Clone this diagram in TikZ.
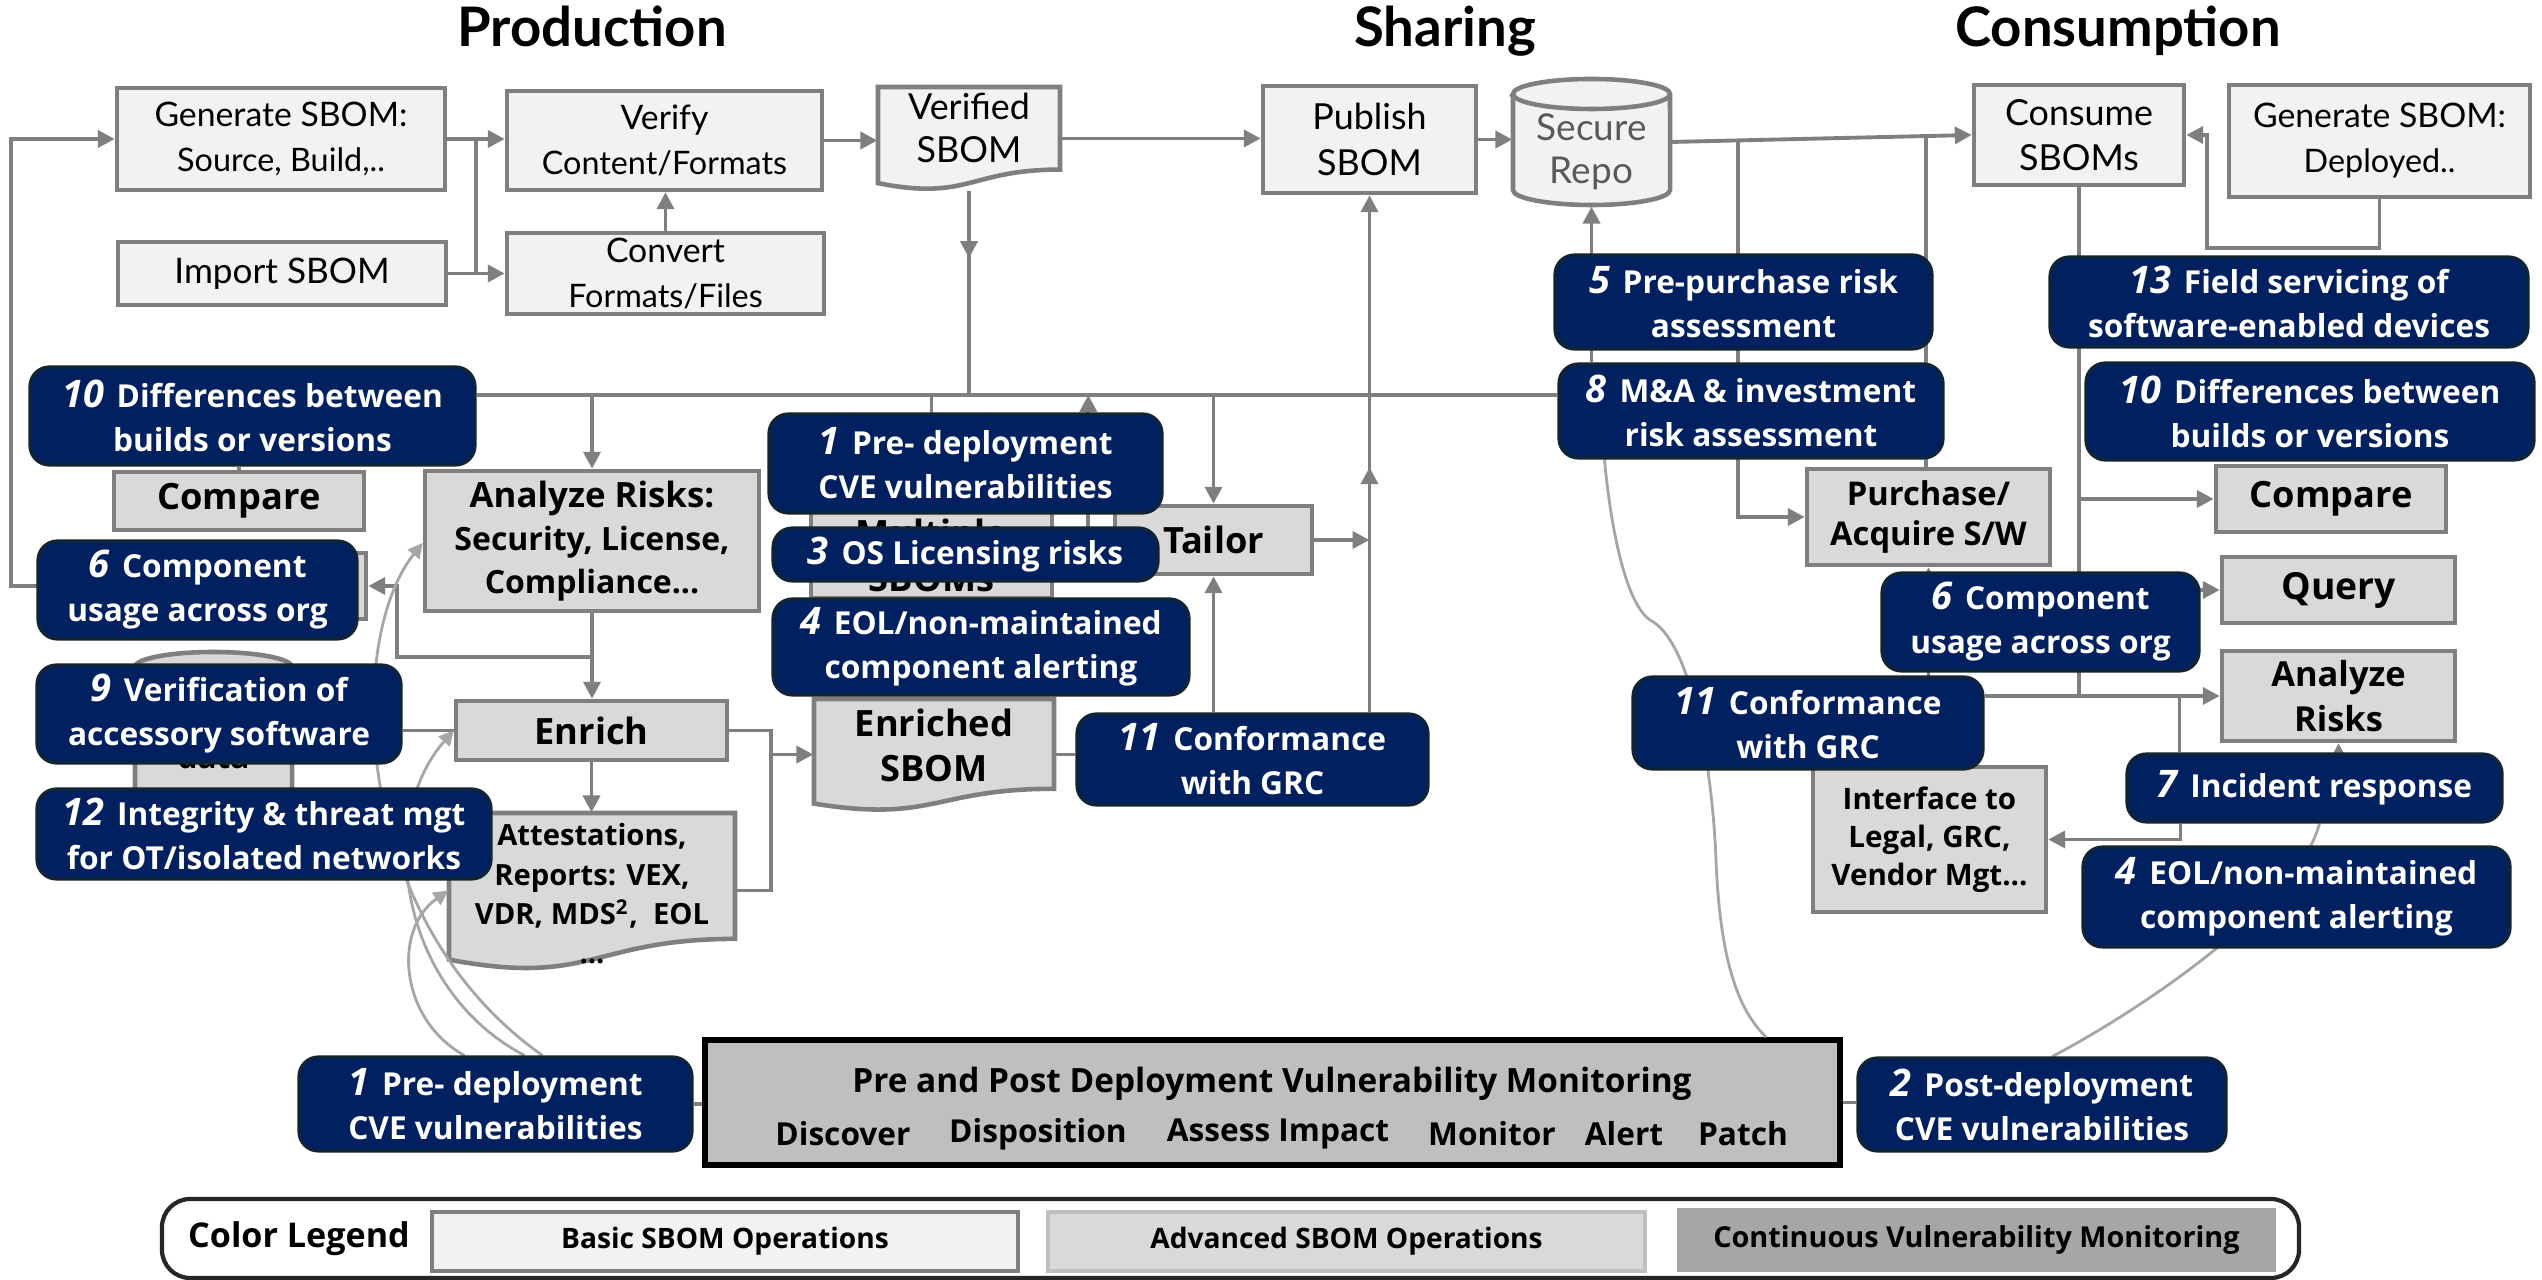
\documentclass[tikz,border=0pt]{standalone}
\usepackage{fontspec}
\setmainfont{Lato}
\newfontfamily\osans{Open Sans}
\usetikzlibrary{arrows.meta,fit,calc,decorations.markings}

\definecolor{navy}{RGB}{0,32,96}
\definecolor{navyline}{RGB}{16,36,52}
\definecolor{basicfill}{RGB}{242,242,242}
\definecolor{advfill}{RGB}{217,217,217}
\definecolor{boxline}{RGB}{127,127,127}
\definecolor{monfill}{RGB}{191,191,191}
\definecolor{curvecol}{RGB}{166,166,166}
\definecolor{repotext}{RGB}{89,89,89}
\definecolor{legadvline}{RGB}{191,191,191}
\definecolor{legcont}{RGB}{166,166,166}
\definecolor{legline}{RGB}{38,38,38}

\pgfdeclarelayer{fg}
\pgfsetlayers{main,fg}

\newcommand\fsz[2]{\fontsize{#1}{#2}\selectfont}
\newcommand\ucnum[1]{{\fsz{10.8}{12}\itshape #1}\hspace{0.4em}}
% a box fitted to two corners, with its text set centred in a node of its own
\newcommand\tbox[4]{%
  \node[#1, fit={#3}] (#2) {};
  \node[#1, draw=none, fill=none, minimum size=0pt] (#2-t) at (#2.center) {#4};}

\tikzset{
  basic/.style={draw=boxline, fill=basicfill, line width=1.3pt, inner sep=0pt, align=center, font=\fsz{9.6}{12.8}},
  adv/.style={draw=boxline, fill=advfill, line width=1.3pt, inner sep=0pt, align=center, font=\osans\bfseries\fsz{10.3}{12.8}},
  usecase/.style={draw=navyline, fill=navy, line width=0.9pt, rounded corners=5.5pt, inner sep=0pt, align=center, text=white, font=\osans\bfseries\fsz{9}{12.5}},
  wire/.style={draw=boxline, line width=1.1pt},
  conn/.style={wire, -{Triangle[length=4.8pt,width=4.8pt]}},
  midarrow/.style={postaction={decorate}, decoration={markings, mark=at position #1 with {\arrow[boxline]{Triangle[length=4.8pt,width=4.8pt]}}}},
  softlink/.style={draw=curvecol, line width=0.8pt},
  softarrow/.style={softlink, -{Triangle[length=4.2pt,width=4.2pt]}},
  heading/.style={font=\bfseries\fsz{15.5}{18}, anchor=base},
  anchorbox/.style={inner sep=0pt},
}

\begin{document}
\begin{tikzpicture}[x=0.01cm, y=-0.01cm]
\useasboundingbox (0,0) rectangle (2542,1280);
\fill[white] (0,0) rectangle (2542,1280);

% ---------- column headings
\node[heading] (hprod) at (592,47) {Production};
\node[heading] (hshare) at (1445,47) {Sharing};
\node[heading] (hcons) at (2118,47) {Consumption};

% ---------- basic SBOM operations
\tbox{basic}{gen}{(117,88)(445,190)}{Generate SBOM:\\{\fsz{9.2}{12.8}Source, Build,..}}
\tbox{basic}{verify}{(507,91)(822,190)}{Verify\\{\fsz{9.2}{12.8}Content/Formats}}
\tbox{basic, font=\fsz{10}{12.8}}{import}{(118,242)(446,305)}{Import SBOM}
\tbox{basic}{convert}{(507,233)(824,314)}{Convert\\{\fsz{9.2}{12.8}Formats/Files}}
\tbox{basic, font=\fsz{10.2}{13}}{publish}{(1263,86)(1476,193)}{Publish\\SBOM}
\tbox{basic, font=\fsz{10.2}{12.8}}{consume}{(1974,85)(2184,185)}{Consume\\SBOMs}
\tbox{basic}{deployed}{(2229,85)(2530,197)}{Generate SBOM:\\{\fsz{9.2}{12.8}Deployed..}}

% verified SBOM (document shape)
\node[anchorbox, fit={(878,87)(1060,190)}] (verified) {};
\filldraw[fill=basicfill, draw=boxline, line width=1.3pt]
  (878,87) -- (1060,87) -- (1060,169.6) .. controls (969,169.6) and (969,201.1) .. (878,183.2) -- cycle;
\node[font=\fsz{10.2}{12.3}, align=center] (verifiedtxt) at (969,128) {Verified\\SBOM};

% secure repository (cylinder)
\node[anchorbox, fit={(1513,78)(1670,206)}] (repo) {};
\filldraw[fill=basicfill, draw=boxline, line width=1.3pt]
  (1513,94) -- (1513,190) arc (180:360:0.785cm and 0.15cm) -- (1670,94) arc (0:180:0.785cm and 0.15cm) -- cycle;
\draw[draw=boxline, line width=1.3pt] (1513,94) arc (180:360:0.785cm and 0.15cm);
\node[font=\fsz{10.5}{12.3}, align=center, text=repotext] (repotxt) at (1591.5,152) {Secure\\Repo};

% ---------- advanced SBOM operations
\tbox{adv}{compL}{(114,472)(364,530)}{Compare}
\node[adv, fit={(60,553)(366,619)}] (hidL) {};
\tbox{adv, font=\osans\bfseries\fsz{9.1}{12.3}}{anL}{(425,471)(759,611)}{{\fsz{9.9}{12.3}Analyze Risks:}\\Security, License,\\Compliance...}
\tbox{adv}{enrich}{(456,701)(727,760)}{Enrich}
\tbox{adv}{multi}{(811,512)(1052,598)}{Multiple\\SBOMs}
\tbox{adv}{tailor}{(1115,506)(1312,574)}{Tailor}
\tbox{adv, font=\osans\bfseries\fsz{9.3}{11.6}}{purch}{(1807,469)(2050,565)}{Purchase/\\Acquire S/W}
\tbox{adv}{compR}{(2216,466)(2446,532)}{Compare}
\tbox{adv, font=\osans\bfseries\fsz{10.6}{12.8}}{queryR}{(2222,557)(2455,623)}{Query}
\tbox{adv, font=\osans\bfseries\fsz{9.8}{13}}{anR}{(2222,651)(2455,741)}{Analyze\\Risks}
\tbox{adv, font=\osans\bfseries\fsz{8.4}{10.8}}{iface}{(1813,767)(2046,912)}{Interface to\\Legal, GRC,\\Vendor Mgt...}

% data store behind the use-case tiles
\node[anchorbox, fit={(135,652)(292,850)}] (datastore) {};
\filldraw[fill=advfill, draw=boxline, line width=1.3pt]
  (135,667) -- (135,835) arc (180:360:0.785cm and 0.15cm) -- (292,667) arc (0:180:0.785cm and 0.15cm) -- cycle;
\draw[draw=boxline, line width=1.3pt] (135,667) arc (180:360:0.785cm and 0.15cm);
\node[font=\osans\bfseries\fsz{9}{11}] (datatxt) at (213.5,757) {data};

% enriched SBOM (document shape)
\node[anchorbox, fit={(814,699)(1054,810)}] (enriched) {};
\filldraw[fill=advfill, draw=boxline, line width=1.3pt]
  (814,699) -- (1054,699) -- (1054,788.8) .. controls (934,788.8) and (934,823) .. (814,803.6) -- cycle;
\node[font=\osans\bfseries\fsz{10.3}{12.8}, align=center] (enrichedtxt) at (934,745) {Enriched\\SBOM};

% attestations and reports (document shape)
\node[anchorbox, fit={(449,813)(735,968)}] (attest) {};
\filldraw[fill=advfill, draw=boxline, line width=1.3pt]
  (449,813) -- (735,813) -- (735,938.9) .. controls (592,938.9) and (592,986.9) .. (449,959.6) -- cycle;
\node[font=\osans\bfseries\fsz{8.3}{11.2}, align=center] (attesttxt) at (592,894) {Attestations,\\Reports: VEX,\\VDR, MDS\textsuperscript{2},\ \ EOL\\...};

% ---------- continuous vulnerability monitoring
\node[draw=black, fill=monfill, line width=1.7pt, inner sep=0pt, fit={(705,1040)(1840,1165)}] (mon) {};
\node[font=\osans\bfseries\fsz{9.5}{11}] (montitle) at (1272,1084) {Pre and Post Deployment Vulnerability Monitoring};
\begin{scope}[every node/.style={font=\osans\bfseries\fsz{9}{11}}]
  \node (mdisc) at (843,1134) {Discover};
  \node (mdisp) at (1038,1134) {Disposition};
  \node (massess) at (1278,1134) {Assess Impact};
  \node (mmon) at (1492,1134) {Monitor};
  \node (malert) at (1624,1134) {Alert};
  \node (mpatch) at (1743,1134) {Patch};
\end{scope}

% ---------- colour legend
\node[draw=legline, line width=1.2pt, rounded corners=8pt, inner sep=0pt, fit={(162,1199)(2299,1278)}] (legend) {};
\node[font=\osans\bfseries\fsz{9.7}{12}] (legtitle) at (299,1239) {Color Legend};
\tbox{basic, font=\osans\bfseries\fsz{8}{10}}{legbasic}{(432,1212)(1018,1271)}{Basic SBOM Operations}
\tbox{fill=advfill, draw=legadvline, line width=1.3pt, inner sep=0pt, font=\osans\bfseries\fsz{8}{10}}{legadv}{(1048,1212)(1645,1271)}{Advanced SBOM Operations}
\tbox{fill=legcont, inner sep=0pt, font=\osans\bfseries\fsz{8.2}{10}}{legcont}{(1677,1208)(2276,1272)}{Continuous Vulnerability Monitoring}

% ---------- use-case tiles
\begin{pgfonlayer}{fg}
\tbox{usecase}{B10L}{(30,367)(475,465)}{\ucnum{10}Differences between\\builds or versions}
\tbox{usecase}{B6L}{(38,541)(357,639)}{\ucnum{6}Component\\usage across org}
\tbox{usecase}{B9}{(37,665)(401,763)}{\ucnum{9}Verification of\\accessory software}
\tbox{usecase}{B12}{(37,789)(491,879)}{\ucnum{12}Integrity \& threat mgt\\for OT/isolated networks}
\tbox{usecase}{B1t}{(769,414)(1162,513)}{\ucnum{1}Pre- deployment\\CVE vulnerabilities}
\tbox{usecase}{B3}{(773,528)(1158,581)}{\ucnum{3}OS Licensing risks}
\tbox{usecase}{B4L}{(773,599)(1189,695)}{\ucnum{4}EOL/non-maintained\\component alerting}
\tbox{usecase}{B11L}{(1077,714)(1428,805)}{\ucnum{11}Conformance\\with GRC}
\tbox{usecase}{B5}{(1555,255)(1932,349)}{\ucnum{5}Pre-purchase risk\\assessment}
\tbox{usecase}{B8}{(1559,364)(1943,458)}{\ucnum{8}M\&A \& investment\\risk assessment}
\tbox{usecase}{B13}{(2050,257)(2528,347)}{\ucnum{13}Field servicing of\\software-enabled devices}
\tbox{usecase}{B10R}{(2086,363)(2534,460)}{\ucnum{10}Differences between\\builds or versions}
\tbox{usecase}{B6R}{(1882,573)(2199,671)}{\ucnum{6}Component\\usage across org}
\tbox{usecase}{B11R}{(1633,677)(1983,769)}{\ucnum{11}Conformance\\with GRC}
\tbox{usecase}{B7}{(2127,754)(2502,822)}{\ucnum{7}Incident response}
\tbox{usecase}{B4R}{(2083,847)(2510,947)}{\ucnum{4}EOL/non-maintained\\component alerting}
\tbox{usecase}{B1b}{(299,1057)(692,1151)}{\ucnum{1}Pre- deployment\\CVE vulnerabilities}
\tbox{usecase}{B2}{(1858,1058)(2226,1151)}{\ucnum{2}Post-deployment\\CVE vulnerabilities}
\end{pgfonlayer}

% ---------- production flow
\draw[conn] (hidL.west) -| ($(gen.west)+(-104,0)$) -- (gen.west);
\coordinate (j1) at ($(gen.east)!0.5!(gen.east -| verify.west)$);
\draw[conn] (gen.east) -- (gen.east -| verify.west);
\draw[wire] (j1) -- (j1 |- import.east);
\draw[conn] (import.east) -- (import.east -| convert.west);
\draw[conn] (convert.north) -- (convert.north |- verify.south);
\draw[conn] (verify.east) -- (verify.east -| verified.west);
\draw[conn] (verified.east) -- (verified.east -| publish.west);
\draw[conn] (publish.east) -- (publish.east -| repo.west);
\draw[conn] (repo.east) -- (consume.west);
\coordinate (r1) at ($(repo.east)!0.2237!(consume.west)$);
\coordinate (r2) at ($(repo.east)!0.8487!(consume.west)$);
\draw[conn] (deployed.south) -- ++(0,49) -| ($(consume.east)+(21,0)$) -- (consume.east);

% shared bus below the verified SBOM
\coordinate (busy) at (0,395);
\draw[wire, midarrow=0.33] (verified.south) -- (verified.south |- busy);
\draw[wire] (B10L.east |- busy) -- (B8.west |- busy);
\draw[conn] (anL.north |- busy) -- (anL.north);
\draw[wire] (multi.north |- busy) -- (multi.north);
\draw[conn] (multi.east) -- ++(34,0) coordinate (mx) -- (mx |- busy);
\draw[conn] (tailor.north |- busy) -- (tailor.north);
\draw[conn, midarrow=0.474] (B11L.north -| publish.south) -- (publish.south);
\draw[conn] (tailor.east) -- (tailor.east -| publish.south);
\draw[conn] (B11L.north -| tailor.south) -- (tailor.south);
\draw[wire] (enriched.east) -- (enriched.east -| B11L.west);

% analysis and enrichment
\draw[wire] (compL.north) -- (compL.north |- B10L.south);
\draw[conn] (anL.south) -- (anL.south |- enrich.north);
\draw[conn] ($(anL.south)+(0,44)$) -| ($(hidL.east)+(29,0)$) -- (hidL.east);
\draw[conn] (enrich.south) -- (enrich.south |- attest.north);
\coordinate (ex) at ($(enrich.east)+(42,0)$);
\draw[wire] (enrich.east) -- (ex) -- (ex |- attest.east) -- (attest.east);
\draw[conn] (ex |- enriched.west) -- (enriched.west);
\draw[wire] (B9.east |- enrich.west) -- (enrich.west);
\draw[wire] (B1b.east) -- (B1b.east -| mon.west);
\draw[wire] (mon.east) -- (mon.east -| B2.west);

% consumption side
\draw[conn] (r1) |- (purch.west);
\draw[wire] (r2) -- (r2 |- purch.north);
\draw[conn] (purch.south |- anR.west) -- (purch.south);
\draw[conn] (B11R.east |- anR.west) -- (anR.west);
\draw[wire] (consume.south) -- (consume.south |- anR.west);
\draw[conn] (consume.south |- compR.west) -- (compR.west);
\draw[conn] (consume.south |- queryR.west) -- (queryR.west);
\coordinate (b7a) at ($(B7.north west)+(54,0)$);
\draw[wire] (b7a) -- (b7a |- anR.west);
\draw[conn] (B7.north -| anR.south) -- (anR.south);
\coordinate (b7b) at ($(B7.south west)+(55,0)$);
\draw[conn] (b7b) |- (iface.east);
\draw[conn] (B8.north -| repo.south) -- (repo.south);

% vulnerability-monitoring links
\draw[softarrow] ($(B1b.north west)+(167,0)$) .. controls (400,1020) and (392,930) .. (attest.west);
\draw[softarrow] ($(B1b.north west)+(227,0)$) .. controls (400,990) and (375,820) .. (enrich.west);
\draw[softarrow] ($(B1b.north west)+(245,0)$) .. controls (350,920) and (345,640) .. ($(anL.west)+(0,2)$);
\draw[softlink] ($(B8.south west)+(47,0)$) .. controls (1612,540) and (1628,605) .. (1650,620)
  .. controls (1690,640) and (1712,760) .. (1716,860) .. controls (1720,960) and (1738,1010) .. ($(mon.north east)+(-77,0)$);
\draw[softlink] ($(B2.north west)+(196,0)$) .. controls (2150,1005) and (2300,900) .. ($(B7.south west)+(194,0)$);

\end{tikzpicture}
\end{document}
